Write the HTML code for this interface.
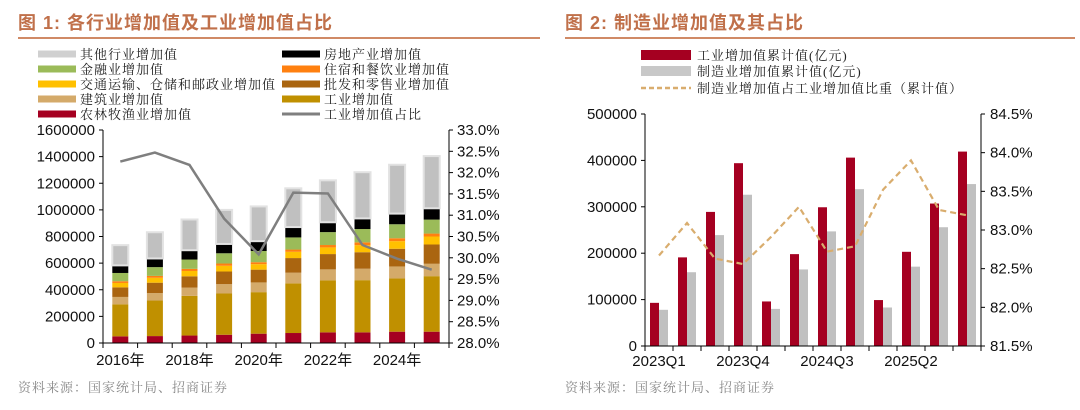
<!DOCTYPE html>
<html><head><meta charset="utf-8"><style>
body{margin:0;background:#fff;width:1080px;height:405px;overflow:hidden}
svg text{font-family:"Liberation Sans","Noto Sans CJK SC",sans-serif}
.t{font-family:"Liberation Sans","Noto Sans CJK SC",sans-serif;font-weight:bold;fill:#c0704a;font-size:18px;letter-spacing:1px}
.lg{font-family:"Liberation Serif","Noto Serif CJK SC",serif;font-size:13px;fill:#222;letter-spacing:1px}
.tk{font-size:15px;fill:#111}
.src{font-family:"Liberation Serif","Noto Serif CJK SC",serif;font-size:13px;fill:#888;letter-spacing:1px}
</style></head><body>
<svg id="s" width="1080" height="405">
<text class="t" x="18" y="29">图 1:  各行业增加值及工业增加值占比</text>
<line x1="18" y1="38" x2="540" y2="38" stroke="#d08a66" stroke-width="2"/>
<text class="t" x="565" y="29">图 2:  制造业增加值及其占比</text>
<line x1="565" y1="38" x2="1075" y2="38" stroke="#d08a66" stroke-width="2"/>
<text class="src" x="18" y="392">资料来源：国家统计局、招商证券</text>
<text class="src" x="565" y="392">资料来源：国家统计局、招商证券</text>
<g id="g1"></g><g id="g2"></g>
</svg>
<script>
const years=["2016年","2017年","2018年","2019年","2020年","2021年","2022年","2023年","2024年","2025年"];
const agri=[50,52,56,62,70,75,80,80,85,85];
const industry=[241,267,298,310,312,373,390,392,400,417];
const construct=[55,56,62,70,73,80,83,86,90,93];
const wholesale=[72,78,85,95,96,110,115,124,133,145];
const transport=[33,37,40,43,41,47,50,53,57,60];
const hotel=[13,14,16,17,15,17,18,21,22,22];
const finance=[62,66,70,77,84,91,97,100,105,105];
const realestate=[57,65,70,70,74,78,74,80,80,85];
const other=[152,197,231,256,261,291,315,347,367,392];
const indShare=[32.26,32.47,32.18,30.92,30.08,31.53,31.51,30.30,29.98,29.72];
const quarters=["2023Q1","2023Q2","2023Q3","2023Q4","2024Q1","2024Q2","2024Q3","2024Q4","2025Q1","2025Q2","2025Q3","2025Q4"];
const indCum=[93,191,289,394,96,198,299,406,99,203,307,419];
const mfgCum=[78,159,239,326,80,165,247,338,83,171,256,349];
const mfgShare=[82.67,83.09,82.63,82.56,82.91,83.30,82.72,82.79,83.52,83.90,83.26,83.19];
const leftTicks1=[0,200000,400000,600000,800000,1000000,1200000,1400000,1600000];
const rightTicks1=["28.0%","28.5%","29.0%","29.5%","30.0%","30.5%","31.0%","31.5%","32.0%","32.5%","33.0%"];
const leftTicks2=[0,100000,200000,300000,400000,500000];
const rightTicks2=["81.5%","82.0%","82.5%","83.0%","83.5%","84.0%","84.5%"];
const NS="http://www.w3.org/2000/svg";
function mk(p,tag,a,txt){const e=document.createElementNS(NS,tag);for(const k in a)e.setAttribute(k,a[k]);if(txt!=null)e.textContent=txt;p.appendChild(e);return e;}
// chart 1
const g1=document.getElementById('g1');
const L1=103,R1=449,T1=130,B1=343;
const y1=v=>B1-v/1600000*(B1-T1);
const yr1=p=>B1-(p-28)/5*(B1-T1);
const cw1=(R1-L1)/years.length;
const x1=i=>L1+cw1*(i+0.5);
const series=[[agri,"#a50021","agri"],[industry,"#c09000","industry"],[construct,"#d4aa6a","construction"],[wholesale,"#aa6510","wholesale"],[transport,"#ffc000","transport"],[hotel,"#ff8010","hotel"],[finance,"#9bbb59","finance"],[realestate,"#000","real-estate"],[other,"#c0c0c0","other"]];
years.forEach((y,i)=>{let c=0;series.forEach(([arr,col,nm])=>{const v=arr[i]*1000;const r=mk(g1,'rect',{x:x1(i)-8,y:y1(c+v),width:16,height:y1(c)-y1(c+v),fill:col});


if(nm==="other")r.setAttribute('stroke','#e2e2e2'),r.setAttribute('stroke-width','2');c+=v;});});
mk(g1,'line',{x1:L1,y1:T1,x2:L1,y2:B1,stroke:'#000'});
mk(g1,'line',{x1:R1,y1:T1,x2:R1,y2:B1,stroke:'#000'});
mk(g1,'line',{x1:L1,y1:B1,x2:R1,y2:B1,stroke:'#000'});
leftTicks1.forEach(v=>{mk(g1,'line',{x1:L1-4,y1:y1(v),x2:L1,y2:y1(v),stroke:'#000'});const t=mk(g1,'text',{x:L1-8,y:y1(v)+5,'text-anchor':'end',class:'tk'},v);

});
rightTicks1.forEach((s,i)=>{const p=28+i*0.5;mk(g1,'line',{x1:R1,y1:yr1(p),x2:R1+4,y2:yr1(p),stroke:'#000'});const t=mk(g1,'text',{x:R1+8,y:yr1(p)+5,class:'tk'},s);

});
for(let i=0;i<=years.length;i++)mk(g1,'line',{x1:L1+cw1*i,y1:B1,x2:L1+cw1*i,y2:B1+5,stroke:'#000'});
years.forEach((y,i)=>{if(i%2==0){const t=mk(g1,'text',{x:x1(i),y:B1+22,'text-anchor':'middle',class:'tk'},y);

}});
const pl=mk(g1,'polyline',{points:indShare.map((p,i)=>x1(i)+','+yr1(p)).join(' '),fill:'none',stroke:'#7f7f7f','stroke-width':2.5});


const leg1=[["其他行业增加值","#d0d0d0",38,54],["金融业增加值","#9bbb59",38,69],["交通运输、仓储和邮政业增加值","#ffc000",38,84],["建筑业增加值","#d4aa6a",38,99],["农林牧渔业增加值","#a50021",38,114],["房地产业增加值","#000",282,54],["住宿和餐饮业增加值","#ff8010",282,69],["批发和零售业增加值","#aa6510",282,84],["工业增加值","#c09000",282,99],["工业增加值占比","#7f7f7f",282,114]];
leg1.forEach(([s,c,x,y],i)=>{mk(g1,'rect',{x:x,y:y-(i==9?1.5:3.5),width:38,height:i==9?3:7,fill:c});const t=mk(g1,'text',{x:x+42,y:y+5,class:'lg'},s);

});
// chart 2
const g2=document.getElementById('g2');
const L2=645,R2=981,T2=114,B2=346;
const y2=v=>B2-v/500000*(B2-T2);
const yr2=p=>B2-(p-81.5)/3*(B2-T2);
const cw2=(R2-L2)/quarters.length;
const x2=i=>L2+cw2*(i+0.5);
quarters.forEach((q,i)=>{const a=mk(g2,'rect',{x:x2(i)-9,y:y2(indCum[i]*1000),width:9,height:B2-y2(indCum[i]*1000),fill:'#a50021'});


const b=mk(g2,'rect',{x:x2(i),y:y2(mfgCum[i]*1000),width:9,height:B2-y2(mfgCum[i]*1000),fill:'#c0c0c0'});

});
mk(g2,'line',{x1:L2,y1:T2,x2:L2,y2:B2,stroke:'#000'});
mk(g2,'line',{x1:R2,y1:T2,x2:R2,y2:B2,stroke:'#000'});
mk(g2,'line',{x1:L2,y1:B2,x2:R2,y2:B2,stroke:'#000'});
leftTicks2.forEach(v=>{mk(g2,'line',{x1:L2-4,y1:y2(v),x2:L2,y2:y2(v),stroke:'#000'});const t=mk(g2,'text',{x:L2-8,y:y2(v)+5,'text-anchor':'end',class:'tk'},v);

});
rightTicks2.forEach((s,i)=>{const p=81.5+i*0.5;mk(g2,'line',{x1:R2,y1:yr2(p),x2:R2+4,y2:yr2(p),stroke:'#000'});const t=mk(g2,'text',{x:R2+9,y:yr2(p)+5,class:'tk'},s);

});
for(let i=0;i<=quarters.length;i++)mk(g2,'line',{x1:L2+cw2*i,y1:B2,x2:L2+cw2*i,y2:B2+5,stroke:'#000'});
quarters.forEach((q,i)=>{if(i%3==0){const t=mk(g2,'text',{x:x2(i),y:B2+20,'text-anchor':'middle',class:'tk'},q);

}});
const pl2=mk(g2,'polyline',{points:mfgShare.map((p,i)=>x2(i)+','+yr2(p)).join(' '),fill:'none',stroke:'#d9ad6e','stroke-width':2.2,'stroke-dasharray':'6,4'});


const leg2=[["工业增加值累计值(亿元)","#a50021",55],["制造业增加值累计值(亿元)","#c8c8c8",71]];
leg2.forEach(([s,c,y])=>{mk(g2,'rect',{x:641,y:y-5,width:50,height:10,fill:c});const t=mk(g2,'text',{x:697,y:y+5,class:'lg'},s);

});
mk(g2,'line',{x1:641,y1:88,x2:691,y2:88,stroke:'#d9ad6e','stroke-width':2.5,'stroke-dasharray':'5,3'});
const t3=mk(g2,'text',{x:697,y:93,class:'lg'},"制造业增加值占工业增加值比重（累计值）");


</script>
</body></html>
